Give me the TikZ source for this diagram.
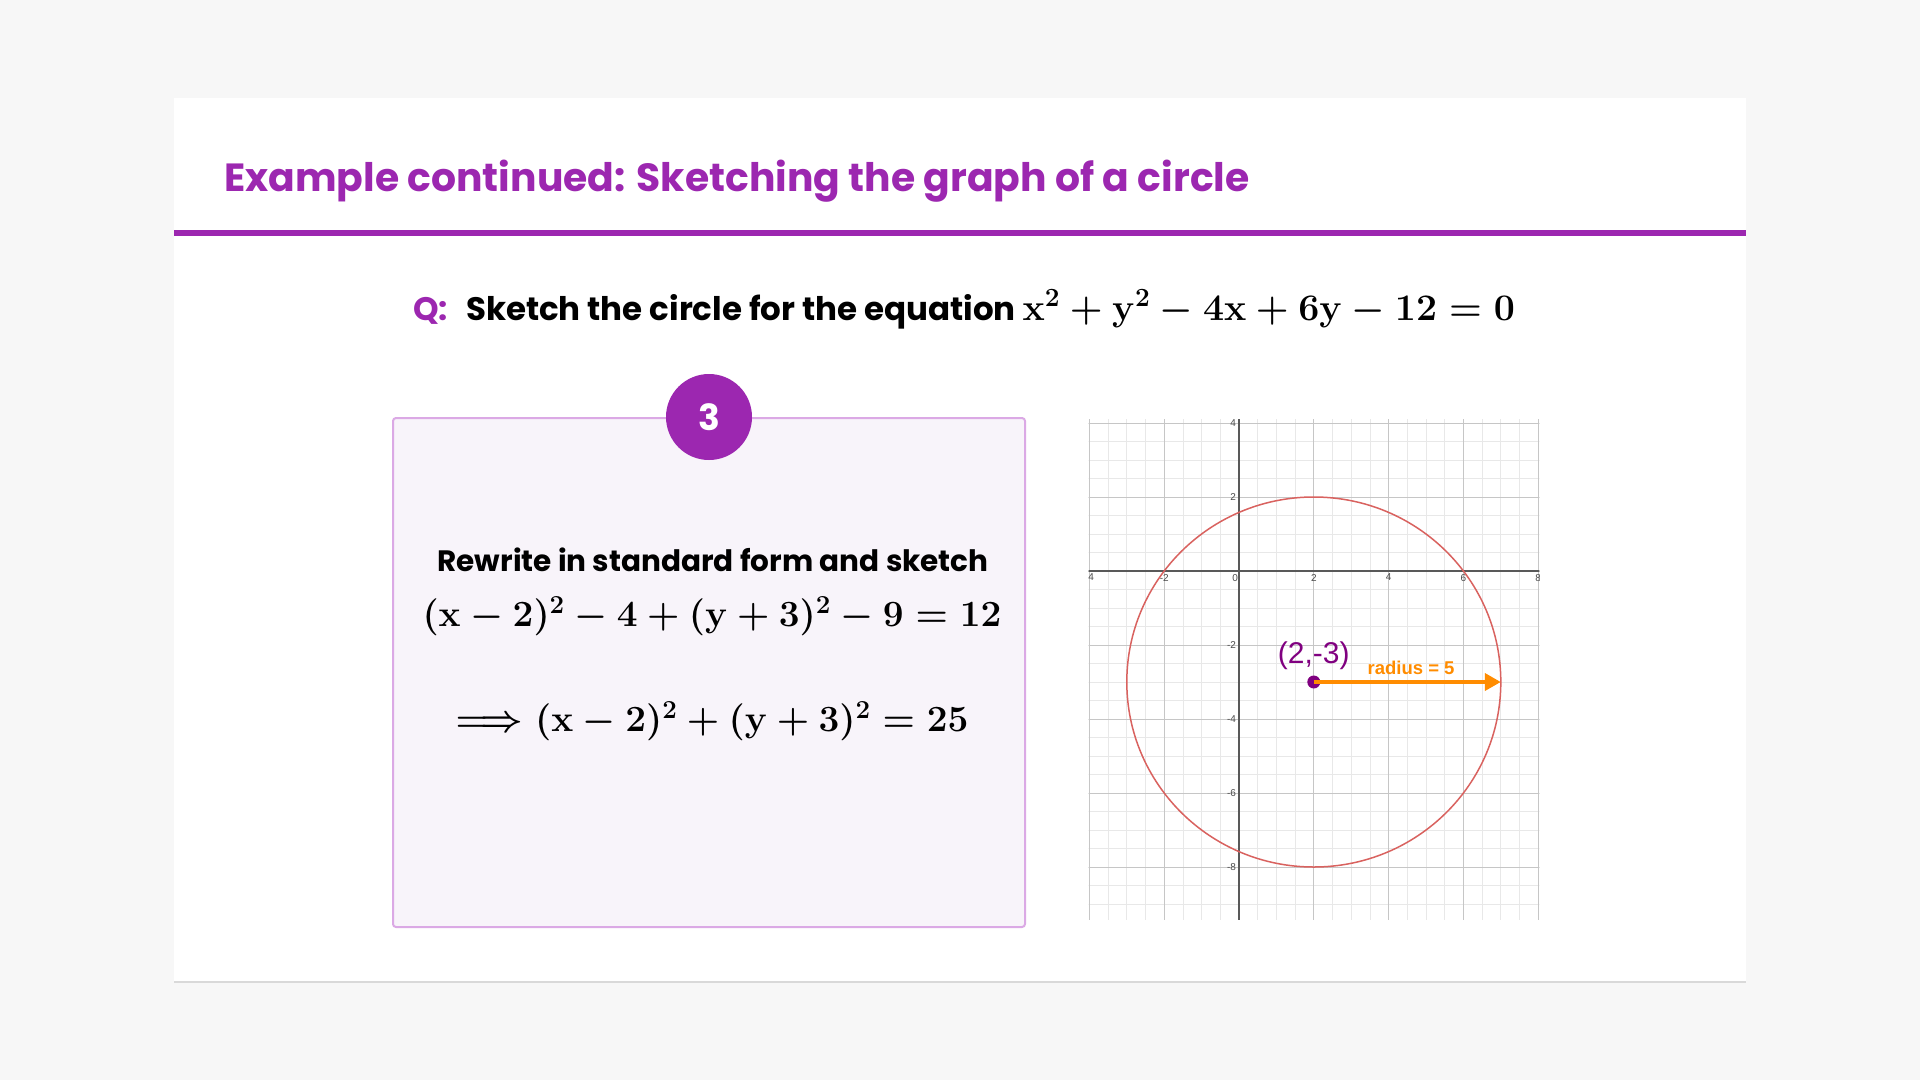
\RequirePackage{fix-cm}
\documentclass[tikz,border=0pt]{standalone}
\usepackage{amsmath}
\usepackage[no-math]{fontspec}
\setmainfont{Poppins}
\newfontfamily\arialfont{Liberation Sans}
\usetikzlibrary{arrows.meta}

\definecolor{slidepurple}{HTML}{9C27B0}
\definecolor{pagegray}{HTML}{F7F7F7}
\definecolor{boxfill}{HTML}{F8F4FA}
\definecolor{boxline}{HTML}{DBA9E5}
\definecolor{circred}{HTML}{D9625F}
\definecolor{radorange}{HTML}{FF8C00}
\definecolor{ptpurple}{HTML}{800080}
\definecolor{minorgrid}{HTML}{E8E8E8}
\definecolor{majorgrid}{HTML}{C6C6C6}

\begin{document}
\begin{tikzpicture}[
    x=1pt, y=-1pt,
    slidetitle/.style={
        anchor=base west, inner sep=0pt,
        text=slidepurple,
        font=\fontsize{39.3}{46}\selectfont\bfseries
    },
    question/.style={
        anchor=base west, inner sep=0pt,
        font=\fontsize{32.5}{38}\selectfont\bfseries
    },
    stepbox/.style={
        draw=boxline, fill=boxfill, line width=2pt,
        rounded corners=3pt,
        minimum width=632pt, minimum height=509pt
    },
    stepnum/.style={
        circle, fill=slidepurple,
        inner sep=0pt, minimum size=86pt,
        text=white, font=\fontsize{36}{42}\selectfont\bfseries
    },
    steptext/.style={
        anchor=base, inner sep=0pt,
        font=\fontsize{29.5}{35}\selectfont\bfseries
    },
    stepmath/.style={
        inner sep=0pt,
        font=\fontsize{37}{44}\selectfont\boldmath
    },
    ticklabel/.style={
        inner sep=1pt, text=black!70,
        font=\arialfont\fontsize{10}{11}\selectfont
    },
    radarrow/.style={
        radorange, line width=3.8pt,
        -{Triangle[length=16pt,width=17pt]}
    }
]
\fill[pagegray] (0,0) rectangle (1920,1080);
\useasboundingbox (0,0) rectangle (1920,1080);
\fill[black!15] (174,100) rectangle (1746,983);
\fill[white] (174,98) rectangle (1746,981);
\fill[slidepurple] (174,230) rectangle (1746,236);

\node[slidetitle] (title) at (224,191)
    {Example continued: Sketching the graph of a circle};
\node[question] (quest) at (413,320)
    {\textcolor{slidepurple}{Q:}\hspace{18pt}Sketch the circle for the equation
     {\fontsize{37.5}{44}\selectfont\boldmath
      $\mathbf{x}^2+\mathbf{y}^2-4\mathbf{x}+6\mathbf{y}-12=0$}};

\node[stepbox] (box) at (709,672.5) {};
\node[stepnum] (badge) at (box.north) {3};
\node[steptext] (rewrite) at (713,571) {Rewrite in standard form and sketch};
\node[stepmath] (eqone) at (712,616)
    {$(\mathbf{x}-2)^2-4+(\mathbf{y}+3)^2-9=12$};
\node[stepmath] (eqtwo) at (712,721)
    {$\Longrightarrow(\mathbf{x}-2)^2+(\mathbf{y}+3)^2=25$};

\begin{scope}[shift={(1239,571)}, x=37.4pt, y=37pt]
    \clip (-4.02,-9.43) rectangle (8.03,4.1);
    \foreach \gx in {-4,-3.5,...,8}
        \draw[minorgrid, line width=0.8pt] (\gx,-9.5) -- (\gx,4.2);
    \foreach \gy in {-9.5,-9,...,4}
        \draw[minorgrid, line width=0.8pt] (-4.1,\gy) -- (8.1,\gy);
    \foreach \gx in {-4,-2,...,8}
        \draw[majorgrid, line width=1pt] (\gx,-9.5) -- (\gx,4.2);
    \foreach \gy in {-8,-6,...,4}
        \draw[majorgrid, line width=1pt] (-4.1,\gy) -- (8.1,\gy);
    \draw[black!65, line width=1.4pt] (-4.1,0) -- (8.1,0);
    \draw[black!65, line width=1.4pt] (0,-9.5) -- (0,4.2);
    \foreach \gx in {-4,-2,2,4,6,8}
        \node[ticklabel, anchor=north] (xt\gx) at (\gx,-0.05) {\gx};
    \node[ticklabel, anchor=north east] (xt0) at (0,-0.05) {0};
    \foreach \gy in {-8,-6,-4,-2,2,4}
        \node[ticklabel, anchor=east] (yt\gy) at (-0.05,\gy) {\gy};

    \draw[circred, line width=1.5pt] (2,-3) circle[radius=5];
    \node[circle, fill=ptpurple, inner sep=0pt, minimum size=13pt] (ctr) at (2,-3) {};
    \coordinate (rim) at (7,-3);
    \draw[radarrow] (ctr.center) -- (rim);
    \node[text=ptpurple, font=\arialfont\fontsize{30}{35}\selectfont]
        (ctrlabel) at (2,-2.28) {(2,-3)};
    \node[text=radorange, font=\arialfont\bfseries\fontsize{18.5}{22}\selectfont]
        (radlabel) at (4.6,-2.61) {radius = 5};
\end{scope}
\end{tikzpicture}
\end{document}
